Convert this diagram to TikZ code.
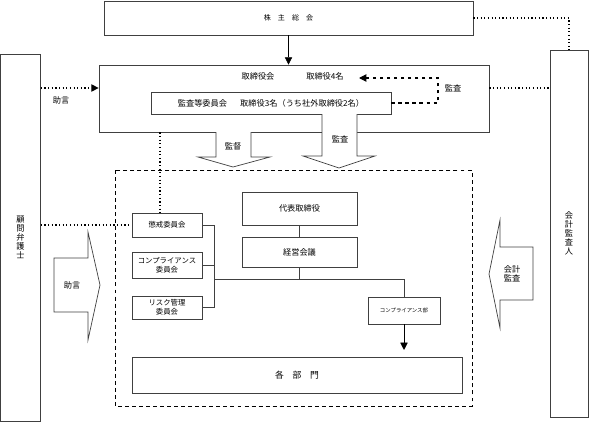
\documentclass[tikz,border=0pt]{standalone}
\usepackage{fontspec}
\setmainfont{Noto Sans CJK JP}
\usetikzlibrary{arrows.meta}

\begin{document}
\begin{tikzpicture}[x=0.03cm, y=-0.03cm,
        box/.style={draw=black!75, line width=0.6pt, inner sep=0pt, align=center,
            font=\fontsize{7}{8.5}\selectfont},
        cbox/.style={box, minimum width=2.1cm, font=\fontsize{6.3}{7.6}\selectfont},
        lbl/.style={inner sep=0pt, align=center, font=\fontsize{7}{8.5}\selectfont},
        dot/.style={line width=1pt, dash pattern=on 1pt off 2.1pt},
        barrow/.style={draw=black!75, line width=0.6pt, fill=white},
        tip/.style={-{Triangle[length=0.22cm, width=0.22cm]}}]
        \useasboundingbox (0,0) rectangle (589,423);

        % Define nodes
        \node[box, minimum width=11.07cm, minimum height=1.02cm, font=\fontsize{6}{7}\selectfont] (kabu) at (288.5,18) {株\quad 主\quad 総\quad 会};
        \node[box, minimum width=11.7cm, minimum height=2.01cm] (tbod) at (294,98.5) {};
        \node[lbl] (tbodlbl) at (258,76) {取締役会};
        \node[lbl] (tbodnum) at (325,76) {取締役4名};
        \node[box, minimum width=7.2cm, minimum height=0.66cm] (audit) at (271,103) {監査等委員会\hspace{1.6em}取締役3名（うち社外取締役2名）};

        \node[box, minimum width=1.2cm, minimum height=11.01cm, font=\fontsize{7}{7.8}\selectfont] (komon) at (20.5,237.5) {顧\\問\\弁\\護\\士};
        \node[box, minimum width=1.14cm, minimum height=11.01cm, font=\fontsize{7}{7.8}\selectfont] (kaikei) at (569,233.5) {会\\計\\監\\査\\人};

        \node[box, minimum width=3.45cm, minimum height=0.99cm] (daihyo) at (299.5,208.5) {代表取締役};
        \node[box, minimum width=3.45cm, minimum height=0.9cm] (keiei) at (299.5,252) {経営会議};

        \node[cbox, minimum height=0.72cm] (choukai) at (167,225) {懲戒委員会};
        \node[cbox, minimum height=0.78cm] (compl) at (167,265) {コンプライアンス\\委員会};
        \node[cbox, minimum height=0.69cm] (risk) at (167,307.5) {リスク管理\\委員会};

        \node[box, minimum width=2.16cm, minimum height=0.81cm, font=\fontsize{4.6}{5}\selectfont] (complbu) at (404,310.5) {コンプライアンス部};
        \node[box, minimum width=9.9cm, minimum height=1.08cm, font=\fontsize{7.5}{9}\selectfont] (kakubu) at (297,375) {各\quad 部\quad 門};

        \coordinate (advl) at (0,88);
        \coordinate (dl) at (160,0);
        \coordinate (audturn) at (438,78);
        \coordinate (audtip) at (359,78);
        \coordinate (bus) at (214,279);

        % Draw edges
        \draw[tip] (kabu.south) -- (kabu.south |- tbod.north);
        \draw[dot] (kabu.east) -| (kaikei.north);
        \draw[dot, tip] (komon.east |- advl) -- (tbod.west |- advl);
        \node[lbl] (advice) at (61,100) {助言};
        \draw[dot] (tbod.east |- advl) -- (kaikei.west |- advl);

        \draw[dashed, line width=0.9pt, tip] (audit.east) -| (audturn) -- (audtip);
        \node[lbl] (auditlbl) at (453,88) {監査};

        % outer dashed frame
        \draw[dashed, line width=0.8pt, dash pattern=on 3.4pt off 2.6pt] (115,170) rectangle (472,406);

        \draw[dot] (tbod.south -| dl) -- (choukai.north -| dl);
        \draw[dot] (komon.east |- choukai.west) -- (choukai.west);

        \draw[black!75, line width=0.6pt] (daihyo.south) -- (keiei.north);
        \foreach \c in {choukai, compl, risk}
            \draw[black!75, line width=0.6pt] (\c.east) -- (\c.east -| bus);
        \draw[black!75, line width=0.6pt] (choukai.east -| bus) -- (risk.east -| bus);
        \draw[black!75, line width=0.6pt] (keiei.south) -- (keiei.south |- bus);
        \draw[black!75, line width=0.6pt] (bus) -| (complbu.north);
        \draw[tip, shorten >=0.2cm] (complbu.south) -- (complbu.south |- kakubu.north);

        % block arrows
        \draw[barrow] (216,132) -- (216,157) -- (198,157) -- (233,167) -- (270,157) -- (251,157) -- (251,132);
        \node[lbl] (supv) at (233,146) {監督};
        \draw[barrow] (322,114) -- (322,156) -- (303,156) -- (339,168) -- (375,156) -- (357,156) -- (357,114);
        \node[lbl] (audv) at (340,139) {監査};
        \draw[barrow] (54,258) -- (88,258) -- (88,232) -- (100,285) -- (88,340) -- (88,312) -- (54,312) -- cycle;
        \node[lbl] (advr) at (72,285) {助言};
        \draw[barrow] (533,247) -- (500,247) -- (500,220) -- (489,274) -- (500,328) -- (500,300) -- (533,300) -- cycle;
        \node[lbl, font=\fontsize{7}{8}\selectfont] (acct) at (512,274) {会計\\監査};
    \end{tikzpicture}
\end{document}
